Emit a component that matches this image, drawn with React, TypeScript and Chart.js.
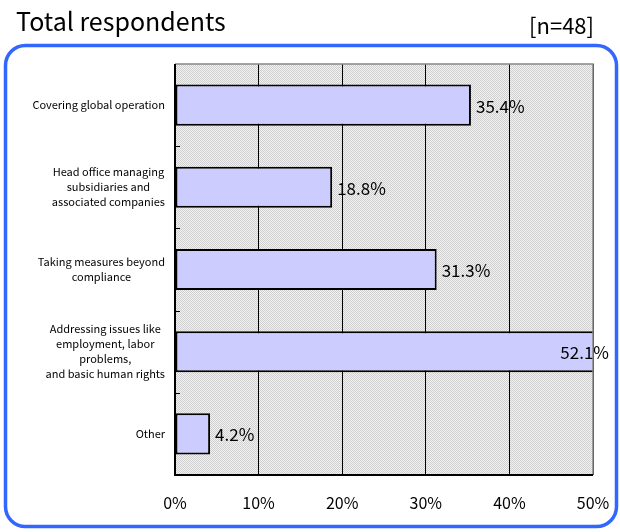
import React, { useEffect, useRef } from "react";
import { Chart, registerables } from "chart.js";

Chart.register(...registerables);

const categories: string[][] = [
  ["Covering global operation"],
  ["Head office managing", "subsidiaries and", "associated companies"],
  ["Taking measures beyond", "compliance"],
  ["Addressing issues like", "employment, labor", "problems,", "and basic human rights"],
  ["Other"],
];
const values: number[] = [35.4, 18.8, 31.3, 52.1, 4.2];
const valueLabels: string[] = ["35.4%", "18.8%", "31.3%", "52.1%", "4.2%"];
const xTicks: number[] = [0, 10, 20, 30, 40, 50];
const titleText = "Total respondents";
const nText = "[n=48]";

const FONT = '"Noto Sans CJK JP", "Noto Sans", sans-serif';

export default function App() {
  const ref = useRef<HTMLCanvasElement | null>(null);
  useEffect(() => {
    document.body.style.margin = "0";
    const canvas = ref.current!;
    const pc = document.createElement("canvas");
    pc.width = 2;
    pc.height = 2;
    const pctx = pc.getContext("2d")!;
    pctx.fillStyle = "#f2f2f2";
    pctx.fillRect(0, 0, 2, 2);
    pctx.fillStyle = "#cfcfcf";
    pctx.fillRect(0, 0, 1, 1);
    pctx.fillRect(1, 1, 1, 1);
    const ctx0 = canvas.getContext("2d")!;
    const pattern = ctx0.createPattern(pc, "repeat")!;

    const decor = {
      id: "decor",
      beforeDraw(chart: any) {
        const { ctx, chartArea: a } = chart;
        ctx.save();
        // title
        ctx.fillStyle = "#000";
        ctx.font = `25px ${FONT}`;
        ctx.textBaseline = "alphabetic";
        ctx.textAlign = "left";
        ctx.fillText(titleText, 16, 31);
        ctx.font = `22px ${FONT}`;
        ctx.textAlign = "right";
        ctx.fillText(nText, 594, 34);
        // rounded border
        ctx.strokeStyle = "#3366ff";
        ctx.lineWidth = 3.5;
        ctx.beginPath();
        ctx.roundRect(5.5, 45.5, 611, 481, 20);
        ctx.stroke();
        // plot background
        ctx.fillStyle = pattern;
        ctx.fillRect(a.left, a.top, a.right - a.left, a.bottom - a.top);
        ctx.restore();
      },
      afterDatasetsDraw(chart: any) {
        const { ctx, chartArea: a } = chart;
        const xs = chart.scales.x;
        const ys = chart.scales.y;
        ctx.save();
        // frame
        ctx.lineWidth = 1.5;
        ctx.strokeStyle = "#888";
        ctx.beginPath();
        ctx.moveTo(a.left, a.top);
        ctx.lineTo(a.right, a.top);
        ctx.lineTo(a.right, a.bottom);
        ctx.stroke();
        ctx.strokeStyle = "#000";
        ctx.lineWidth = 2;
        ctx.beginPath();
        ctx.moveTo(a.left, a.top);
        ctx.lineTo(a.left, a.bottom);
        ctx.lineTo(a.right, a.bottom);
        ctx.stroke();
        // category tick marks at band boundaries
        const n = categories.length;
        const band = (a.bottom - a.top) / n;
        ctx.lineWidth = 1;
        for (let i = 1; i < n; i++) {
          const y = Math.round(a.top + band * i) + 0.5;
          ctx.beginPath();
          ctx.moveTo(a.left, y);
          ctx.lineTo(a.left + 5, y);
          ctx.stroke();
        }
        // category labels
        ctx.font = `11px ${FONT}`;
        ctx.fillStyle = "#000";
        ctx.textAlign = "center";
        ctx.textBaseline = "middle";
        const lh = 15;
        categories.forEach((lines, i) => {
          const cy = ys.getPixelForValue(i);
          const maxW = Math.max(...lines.map((l) => ctx.measureText(l).width));
          const cx = 165 - maxW / 2;
          lines.forEach((l, j) => {
            ctx.fillText(l, cx, cy + (j - (lines.length - 1) / 2) * lh);
          });
        });
        // value labels
        ctx.font = `17px ${FONT}`;
        ctx.textBaseline = "middle";
        values.forEach((v, i) => {
          const cy = ys.getPixelForValue(i) + 1;
          if (v > xs.max) {
            ctx.textAlign = "right";
            ctx.fillText(valueLabels[i], a.right + 16, cy);
          } else {
            ctx.textAlign = "left";
            ctx.fillText(valueLabels[i], xs.getPixelForValue(v) + 5, cy);
          }
        });
        ctx.restore();
      },
    };

    const chart = new Chart(canvas, {
      type: "bar",
      data: {
        labels: categories.map((c) => c.join(" ")),
        datasets: [
          {
            data: values,
            backgroundColor: "#ccccff",
            borderColor: "#000",
            borderWidth: 2,
            borderSkipped: false,
            categoryPercentage: 1,
            barPercentage: 0.5,
          },
        ],
      },
      options: {
        indexAxis: "y",
        animation: false,
        responsive: false,
        layout: { padding: { top: 64, right: 27, left: 0, bottom: 0 } },
        plugins: { legend: { display: false }, tooltip: { enabled: false } },
        scales: {
          x: {
            min: 0,
            max: 50,
            afterBuildTicks: (s: any) => {
              s.ticks = xTicks.map((v) => ({ value: v }));
            },
            afterFit: (s: any) => {
              s.height = 57;
              s.paddingLeft = 0;
              s.paddingRight = 0;
            },
            grid: { color: "#000", lineWidth: 1, drawTicks: false },
            border: { display: false },
            ticks: {
              color: "#000",
              font: { family: FONT, size: 16 },
              padding: 18,
              maxRotation: 0,
              callback: (v: any) => `${v}%`,
            },
          },
          y: {
            afterFit: (s: any) => {
              s.width = 175;
            },
            grid: { display: false },
            border: { display: false },
            ticks: { display: false },
          },
        },
      },
      plugins: [decor],
    });
    return () => chart.destroy();
  }, []);
  return (
    <div style={{ position: "absolute", left: 0, top: 0, width: 620, height: 532 }}>
      <canvas ref={ref} width={620} height={532} style={{ width: 620, height: 532, display: "block" }} />
    </div>
  );
}
